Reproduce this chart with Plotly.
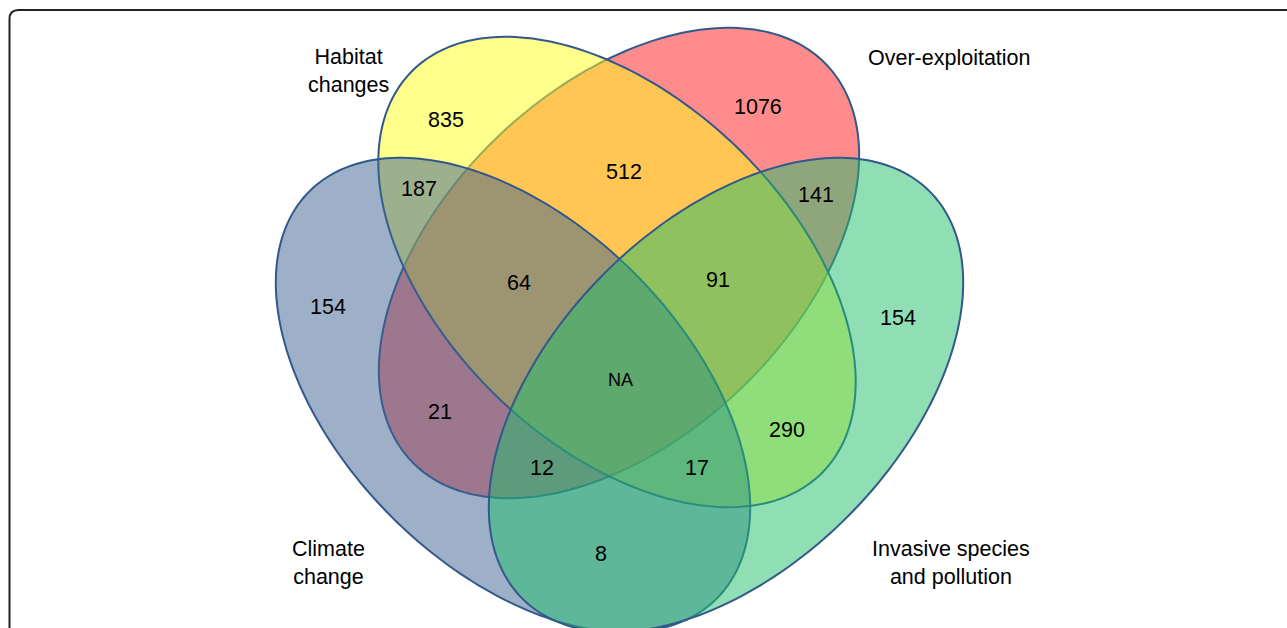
import numpy as np
import plotly.graph_objects as go

# ---- data ----
set_names = ["Over-exploitation", "Habitat<br>changes", "Climate<br>change",
             "Invasive species<br>and pollution"]
set_fill = ["rgba(255,25,25,0.5)", "rgba(255,255,25,0.5)",
            "rgba(59,97,143,0.5)", "rgba(31,189,105,0.5)"]

region_names = ["H", "O", "H&O", "H&C", "O&I", "C", "H&O&C", "H&O&I", "I",
                "H&O&C&I", "O&C", "H&I", "O&C&I", "H&C&I", "C&I"]
region_counts = ["835", "1076", "512", "187", "141", "154", "64", "91", "154",
                 "NA", "21", "290", "12", "17", "8"]

# ---- geometry (pixel space, y down) ----
W, H = 1287, 628
# cx, cy, semi-major, semi-minor, rotation (deg, screen coords)
ellipses = [
    (619, 263, 287, 175, -43.7),   # Over-exploitation (red)
    (617, 272, 287, 173, 44.1),    # Habitat changes (yellow)
    (513, 395, 288, 172, 45.0),    # Climate change (blue)
    (726, 395, 288, 172, -45.0),   # Invasive species (green)
]
set_label_pos = [(949, 58), (348, 71), (328, 563), (951, 563)]
region_pos = [(446, 120), (758, 107), (624, 172), (419, 189), (816, 195),
              (328, 307), (519, 283), (718, 280), (898, 318), (620, 380),
              (440, 412), (787, 430), (542, 468), (697, 468), (601, 554)]

line_col = "rgb(50,88,140)"
font_fam = "Arial, Liberation Sans, sans-serif"


def ellipse_path(cx, cy, a, b, rot):
    t = np.linspace(0, 2 * np.pi, 241)
    th = np.deg2rad(rot)
    x = cx + a * np.cos(t) * np.cos(th) - b * np.sin(t) * np.sin(th)
    y = cy + a * np.cos(t) * np.sin(th) + b * np.sin(t) * np.cos(th)
    pts = " L".join(f"{xi:.2f},{yi:.2f}" for xi, yi in zip(x, y))
    return "M" + pts + " Z"


shapes = []
for (cx, cy, a, b, rot), fc in zip(ellipses, set_fill):
    shapes.append(dict(type="path", xref="x", yref="y", path=ellipse_path(cx, cy, a, b, rot),
                       fillcolor=fc, line=dict(color=line_col, width=2), layer="above"))

# outer rounded frame (extends beyond the visible area)
r = 9
x0, y0, x1, y1 = 9.5, 10, 1300, 700
frame = (f"M{x0},{y1} L{x0},{y0 + r} Q{x0},{y0} {x0 + r},{y0} L{x1},{y0}")
shapes.append(dict(type="path", xref="x", yref="y", path=frame,
                   line=dict(color="#222222", width=2), layer="above"))

annotations = []
for name, (x, y) in zip(set_names, set_label_pos):
    annotations.append(dict(x=x, y=y, xref="x", yref="y", text=name, showarrow=False,
                            font=dict(family=font_fam, size=21.5, color="black"),
                            align="center", xanchor="center", yanchor="middle"))
for cnt, (x, y) in zip(region_counts, region_pos):
    annotations.append(dict(x=x, y=y, xref="x", yref="y", text=cnt, showarrow=False,
                            font=dict(family=font_fam, size=18 if cnt == "NA" else 21.5,
                                      color="black"),
                            xanchor="center", yanchor="middle"))

fig = go.Figure()
fig.add_trace(go.Scatter(x=[0, W], y=[0, H], mode="markers",
                         marker=dict(opacity=0), hoverinfo="skip", showlegend=False))
fig.update_layout(
    width=W, height=H, margin=dict(l=0, r=0, t=0, b=0),
    paper_bgcolor="white", plot_bgcolor="white",
    xaxis=dict(range=[0, W], visible=False, fixedrange=True),
    yaxis=dict(range=[H, 0], visible=False, fixedrange=True),
    shapes=shapes, annotations=annotations, showlegend=False,
)
fig.write_html("out.html", post_script="document.body.style.margin='0';",
               config={"displayModeBar": False})
